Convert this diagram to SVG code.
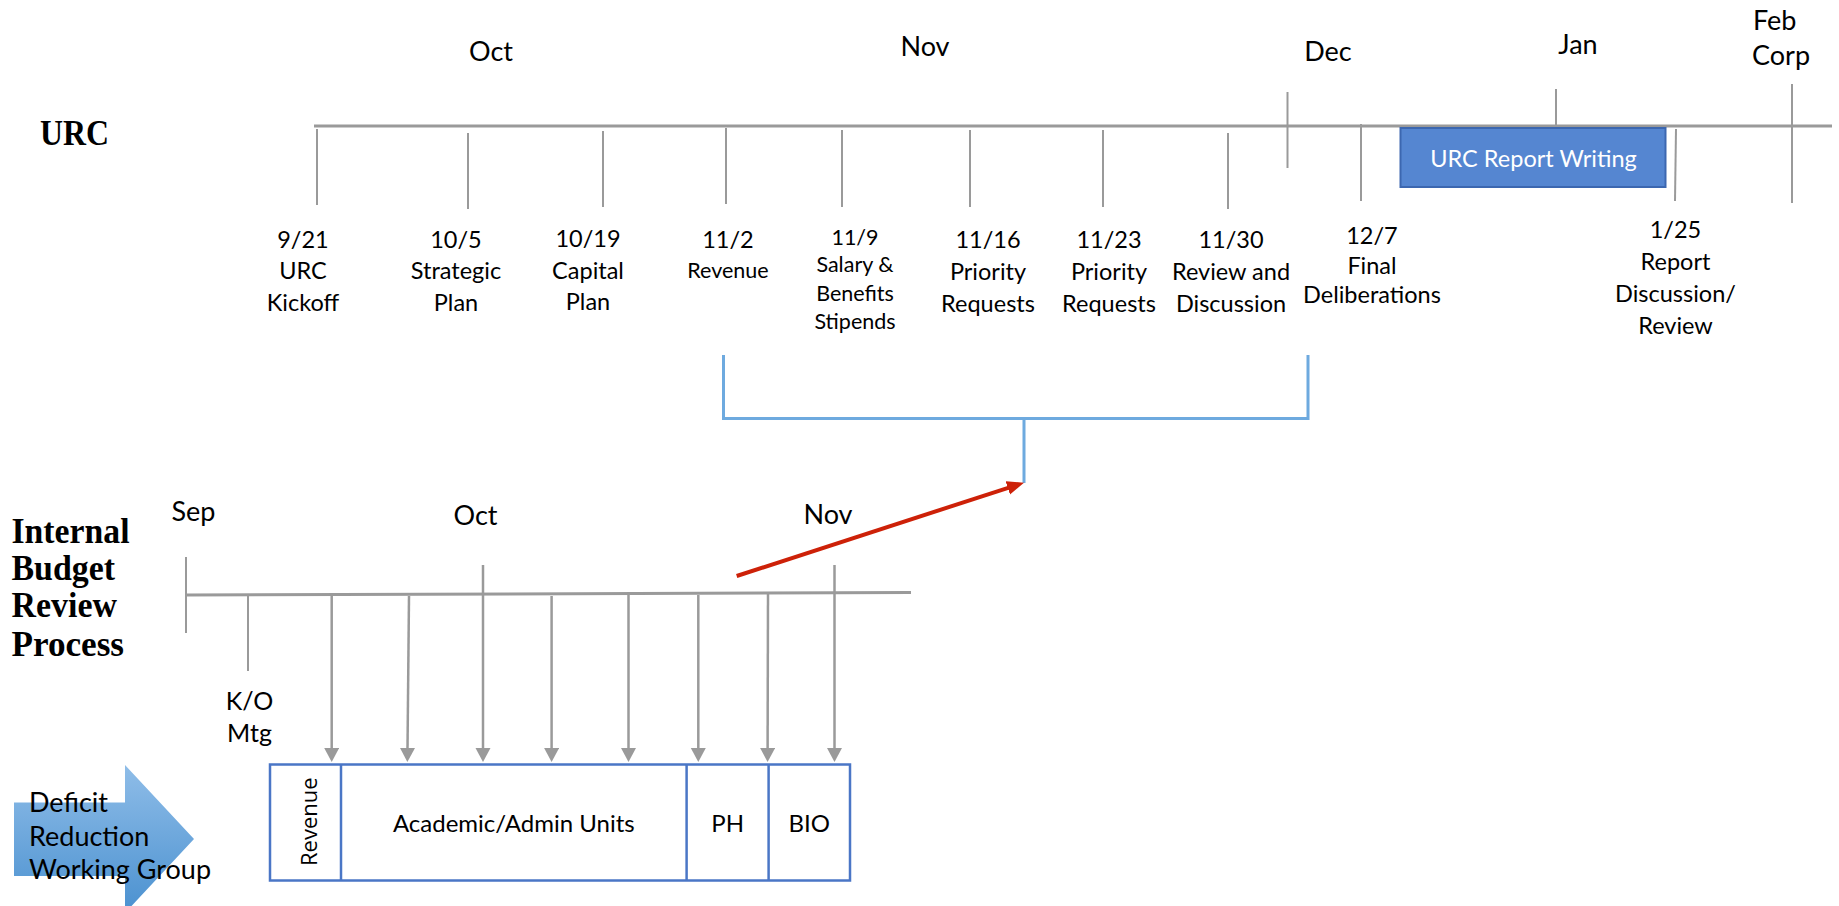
<svg xmlns="http://www.w3.org/2000/svg" width="1839" height="906" viewBox="0 0 1839 906">
<style>
text{font-family:Lato,"Liberation Sans",sans-serif;fill:#000}
.m{font-size:27px;text-anchor:middle}
.d{font-size:23.5px;text-anchor:middle}
.s{font-size:21.5px;text-anchor:middle}
.t{font-family:"Liberation Serif",serif;font-weight:bold;font-size:35px}
.g{stroke:#9a9a9a;stroke-width:2;fill:none}
.gl{stroke:#9a9a9a;stroke-width:3;fill:none}
.ga{stroke:#9a9a9a;stroke-width:2.5;fill:none;marker-end:url(#ah)}
.bx{fill:#fff;stroke:#4a76c6;stroke-width:2.5}
.br{stroke:#6eaadf;stroke-width:3;fill:none}
</style>
<defs>
<marker id="ah" markerUnits="userSpaceOnUse" markerWidth="15" markerHeight="16" refX="1" refY="7.5" orient="auto"><path d="M0,0 L14,7.5 L0,15 z" fill="#9a9a9a"/></marker>
<marker id="ar" markerUnits="userSpaceOnUse" markerWidth="18" markerHeight="15" refX="2" refY="7" orient="auto"><path d="M0,0 L17,7 L0,14 z" fill="#cd2108"/></marker>
<linearGradient id="dg" x1="0" y1="765" x2="0" y2="906" gradientUnits="userSpaceOnUse"><stop offset="0" stop-color="#8fbde8"/><stop offset="1" stop-color="#4e93d1"/></linearGradient>
</defs>

<g id="urc-title"><text class="t" x="40" y="145" style="font-size:36px" textLength="69" lengthAdjust="spacingAndGlyphs">URC</text></g>
<g id="ibrp-title">
<text class="t" x="11.5" y="543" textLength="118" lengthAdjust="spacingAndGlyphs">Internal</text>
<text class="t" x="11.5" y="580" textLength="103.5" lengthAdjust="spacingAndGlyphs">Budget</text>
<text class="t" x="11.5" y="617" textLength="105.5" lengthAdjust="spacingAndGlyphs">Review</text>
<text class="t" x="11.5" y="656" textLength="112.5" lengthAdjust="spacingAndGlyphs">Process</text>
</g>

<g id="urc-months">
<text class="m" x="491" y="60.5">Oct</text>
<text class="m" x="925" y="56">Nov</text>
<text class="m" x="1328" y="61">Dec</text>
<text class="m" x="1578" y="54">Jan</text>
<text class="m" x="1753" y="30" style="text-anchor:start">Feb</text>
<text class="m" x="1752" y="65" style="text-anchor:start">Corp</text>
</g>

<g id="urc-timeline">
<line class="gl" x1="314" y1="126" x2="1832" y2="126"/>
<line class="g" x1="317" y1="129" x2="317" y2="205"/>
<line class="g" x1="468" y1="133" x2="468" y2="209"/>
<line class="g" x1="603" y1="131" x2="603" y2="207"/>
<line class="g" x1="726" y1="128" x2="726" y2="204"/>
<line class="g" x1="842" y1="130" x2="842" y2="207"/>
<line class="g" x1="970" y1="130" x2="970" y2="207"/>
<line class="g" x1="1103" y1="130" x2="1103" y2="207"/>
<line class="g" x1="1228" y1="133" x2="1228" y2="209"/>
<line class="g" x1="1287.5" y1="92" x2="1287.5" y2="168"/>
<line class="g" x1="1361" y1="124" x2="1361" y2="201"/>
<line class="g" x1="1556" y1="89" x2="1556" y2="126"/>
<line class="g" x1="1676" y1="129" x2="1675" y2="201"/>
<line class="g" x1="1792" y1="84" x2="1792" y2="203"/>
</g>

<g id="report-writing">
<rect x="1400.5" y="128" width="265" height="59" fill="#5586d1" stroke="#3c67b0" stroke-width="2"/>
<text x="1533.5" y="166.5" style="font-size:23.5px;text-anchor:middle;fill:#fff">URC Report Writing</text>
</g>

<g id="m-0921"><text class="d" x="303" y="247.5">9/21</text><text class="d" x="303" y="279">URC</text><text class="d" x="303" y="310.5">Kickoff</text></g>
<g id="m-1005"><text class="d" x="456" y="247.5">10/5</text><text class="d" x="456" y="279">Strategic</text><text class="d" x="456" y="310.5">Plan</text></g>
<g id="m-1019"><text class="d" x="588" y="247">10/19</text><text class="d" x="588" y="278.5">Capital</text><text class="d" x="588" y="310">Plan</text></g>
<g id="m-1102"><text class="d" x="728" y="248">11/2</text><text class="s" x="728" y="277.5">Revenue</text></g>
<g id="m-1109"><text class="s" x="855" y="245">11/9</text><text class="s" x="855" y="272">Salary &amp;</text><text class="s" x="855" y="301">Benefits</text><text class="s" x="855" y="329">Stipends</text></g>
<g id="m-1116"><text class="d" x="988" y="248">11/16</text><text class="d" x="988" y="280">Priority</text><text class="d" x="988" y="311.5">Requests</text></g>
<g id="m-1123"><text class="d" x="1109" y="248">11/23</text><text class="d" x="1109" y="280">Priority</text><text class="d" x="1109" y="311.5">Requests</text></g>
<g id="m-1130"><text class="d" x="1231" y="248">11/30</text><text class="d" x="1231" y="280">Review and</text><text class="d" x="1231" y="311.5">Discussion</text></g>
<g id="m-1207"><text class="d" x="1372" y="243.5">12/7</text><text class="d" x="1372" y="274">Final</text><text class="d" x="1372" y="302.5">Deliberations</text></g>
<g id="m-0125"><text class="d" x="1675.5" y="237.5">1/25</text><text class="d" x="1675.5" y="270">Report</text><text class="d" x="1675.5" y="301.5">Discussion/</text><text class="d" x="1675.5" y="333.5">Review</text></g>

<g id="ibrp-months">
<text class="m" x="193.5" y="520.5">Sep</text>
<text class="m" x="475.5" y="525">Oct</text>
<text class="m" x="828" y="524">Nov</text>
</g>

<g id="ibrp-timeline">
<line class="gl" x1="186" y1="595" x2="911" y2="592.5"/>
<line class="g" x1="186" y1="557" x2="186" y2="633"/>
<line class="g" x1="248" y1="595" x2="248" y2="671"/>
</g>
<g id="ko-mtg"><text class="d" x="249.5" y="710" style="font-size:25px">K/O</text><text class="d" x="249.5" y="742" style="font-size:25px">Mtg</text></g>

<g id="connectors">
<line class="ga" x1="331.7" y1="596" x2="331.7" y2="749"/>
<line class="ga" x1="409" y1="596" x2="407.5" y2="749"/>
<line class="ga" x1="483" y1="565" x2="483" y2="749"/>
<line class="ga" x1="551.6" y1="596" x2="551.6" y2="749"/>
<line class="ga" x1="628.5" y1="595" x2="628.5" y2="749"/>
<line class="ga" x1="698.3" y1="595" x2="698.3" y2="749"/>
<line class="ga" x1="768" y1="594" x2="767.6" y2="749"/>
<line class="ga" x1="834.5" y1="565" x2="834.5" y2="749"/>
<path class="br" d="M723.5,355 V418.5 H1308 V355 M1024,418.5 V483"/>
<line x1="736.7" y1="576" x2="1009.7" y2="487.3" stroke="#cd2108" stroke-width="4" marker-end="url(#ar)"/>
</g>

<g id="drwg">
<polygon points="14,802.5 125,802.5 125,765 194,839 125,913 125,876 14,876" fill="url(#dg)"/>
<text x="29" y="811.5" style="font-size:27px">Deficit</text>
<text x="29" y="846" style="font-size:27px">Reduction</text>
<text x="29" y="878.5" style="font-size:27px">Working Group</text>
</g>

<g id="units-box">
<rect class="bx" x="270" y="764.5" width="580" height="116"/>
<line class="bx" x1="341" y1="764.5" x2="341" y2="880.5"/>
<line class="bx" x1="686.6" y1="764.5" x2="686.6" y2="880.5"/>
<line class="bx" x1="768.6" y1="764.5" x2="768.6" y2="880.5"/>
<text transform="translate(316.5,821.7) rotate(-90)" style="font-family:'Open Sans',sans-serif;font-size:22px;text-anchor:middle">Revenue</text>
<text x="513.8" y="831.5" style="font-size:24px;text-anchor:middle">Academic/Admin Units</text>
<text x="727.6" y="831.5" style="font-size:24px;text-anchor:middle">PH</text>
<text x="809.3" y="831.5" style="font-size:24px;text-anchor:middle">BIO</text>
</g>
</svg>
